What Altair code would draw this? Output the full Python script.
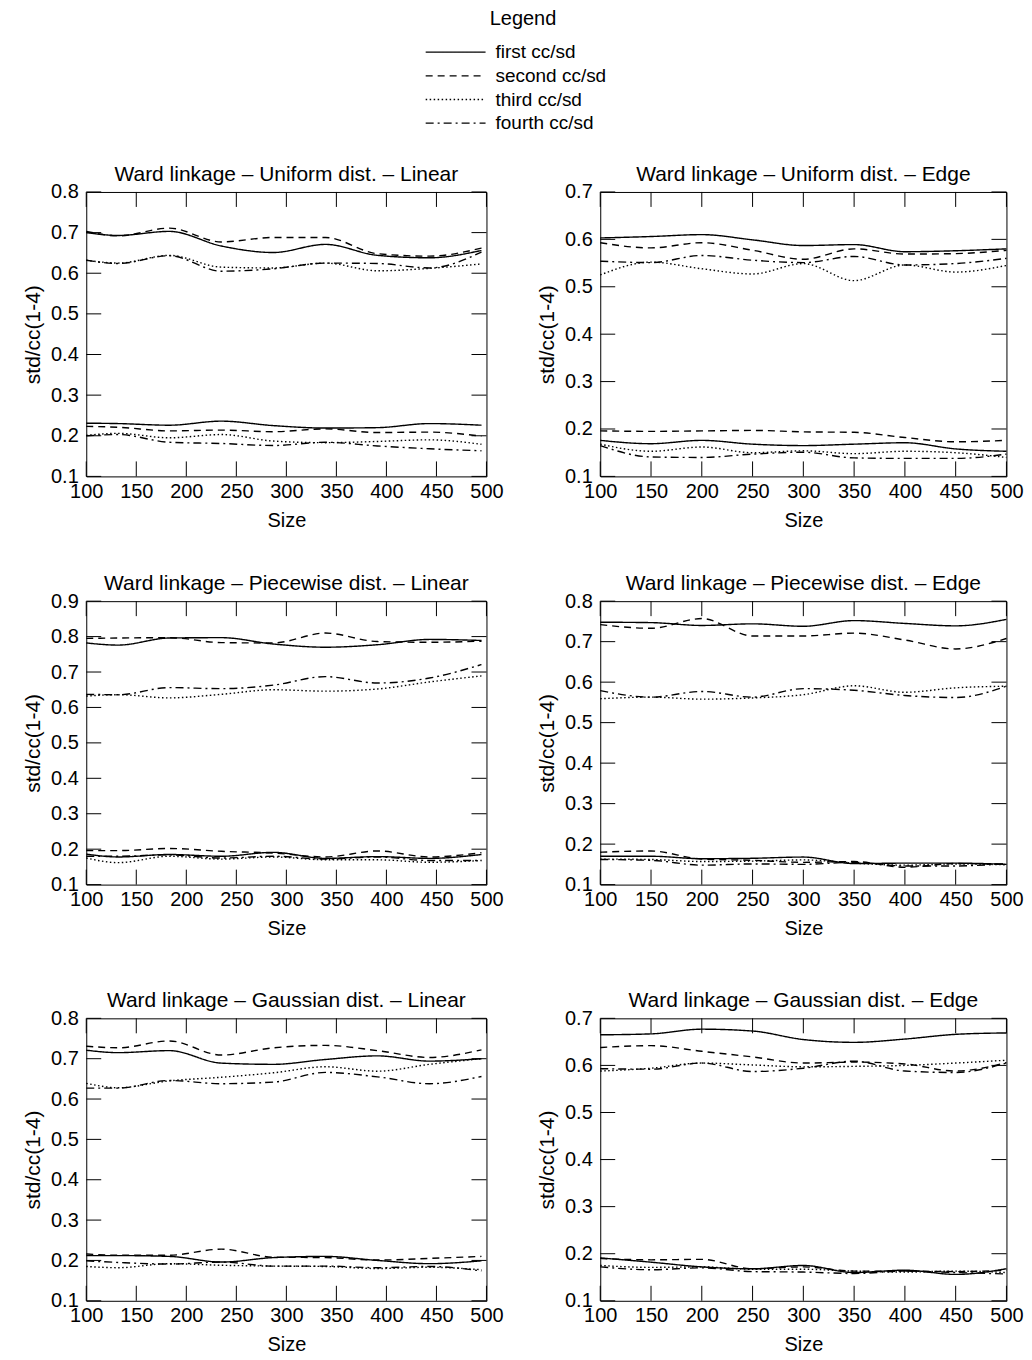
import altair as alt
import pandas as pd

FONT = "Liberation Sans"

X_LEFT = [100, 132, 183, 235, 287, 339, 391, 443, 495]
X_RIGHT = [100, 150, 200, 250, 300, 350, 400, 450, 500]
X_TICKS = [100, 150, 200, 250, 300, 350, 400, 450, 500]
SERIES = ["first cc/sd", "second cc/sd", "third cc/sd", "fourth cc/sd"]
DASHES = [[1, 0], [7, 5], [1.5, 2.5], [8, 4, 2, 4]]

# ---- Uniform dist. - Linear ----
ul_up_first = [0.700, 0.693, 0.703, 0.667, 0.651, 0.671, 0.644, 0.638, 0.656]
ul_up_second = [0.703, 0.692, 0.711, 0.677, 0.688, 0.688, 0.648, 0.642, 0.662]
ul_up_third = [0.632, 0.625, 0.644, 0.615, 0.613, 0.625, 0.606, 0.612, 0.623]
ul_up_fourth = [0.632, 0.624, 0.643, 0.605, 0.611, 0.625, 0.624, 0.613, 0.652]
ul_lo_first = [0.231, 0.230, 0.226, 0.236, 0.225, 0.219, 0.220, 0.230, 0.226]
ul_lo_second = [0.223, 0.221, 0.212, 0.214, 0.210, 0.217, 0.208, 0.209, 0.199]
ul_lo_third = [0.201, 0.206, 0.195, 0.203, 0.187, 0.183, 0.186, 0.190, 0.179]
ul_lo_fourth = [0.200, 0.203, 0.184, 0.181, 0.176, 0.184, 0.175, 0.168, 0.163]

# ---- Uniform dist. - Edge ----
ue_up_first = [0.603, 0.606, 0.610, 0.599, 0.587, 0.589, 0.574, 0.576, 0.580]
ue_up_second = [0.593, 0.582, 0.593, 0.577, 0.558, 0.580, 0.569, 0.570, 0.577]
ue_up_third = [0.525, 0.552, 0.538, 0.527, 0.549, 0.513, 0.546, 0.531, 0.545]
ue_up_fourth = [0.554, 0.551, 0.566, 0.556, 0.551, 0.564, 0.546, 0.549, 0.560]
ue_lo_first = [0.176, 0.169, 0.176, 0.168, 0.165, 0.168, 0.171, 0.158, 0.153]
ue_lo_second = [0.196, 0.195, 0.196, 0.197, 0.194, 0.193, 0.182, 0.173, 0.176]
ue_lo_third = [0.168, 0.153, 0.162, 0.150, 0.154, 0.148, 0.153, 0.150, 0.140]
ue_lo_fourth = [0.165, 0.141, 0.140, 0.147, 0.151, 0.139, 0.138, 0.138, 0.147]

# ---- Piecewise dist. - Linear ----
pl_up_first = [0.782, 0.776, 0.796, 0.797, 0.779, 0.770, 0.777, 0.792, 0.789]
pl_up_second = [0.795, 0.796, 0.797, 0.783, 0.782, 0.810, 0.786, 0.784, 0.787]
pl_up_third = [0.632, 0.636, 0.627, 0.637, 0.650, 0.646, 0.652, 0.672, 0.689]
pl_up_fourth = [0.637, 0.636, 0.656, 0.653, 0.663, 0.687, 0.669, 0.683, 0.721]
pl_lo_first = [0.186, 0.178, 0.185, 0.180, 0.191, 0.174, 0.179, 0.174, 0.185]
pl_lo_second = [0.196, 0.196, 0.202, 0.194, 0.189, 0.178, 0.195, 0.178, 0.190]
pl_lo_third = [0.175, 0.162, 0.180, 0.172, 0.178, 0.170, 0.170, 0.163, 0.168]
pl_lo_fourth = [0.180, 0.180, 0.184, 0.175, 0.180, 0.172, 0.178, 0.168, 0.168]

# ---- Piecewise dist. - Edge ----
pe_up_first = [0.748, 0.747, 0.740, 0.744, 0.738, 0.752, 0.745, 0.739, 0.755]
pe_up_second = [0.742, 0.733, 0.757, 0.714, 0.714, 0.721, 0.704, 0.682, 0.708]
pe_up_third = [0.559, 0.563, 0.558, 0.561, 0.569, 0.591, 0.575, 0.586, 0.590]
pe_up_fourth = [0.579, 0.563, 0.577, 0.563, 0.584, 0.580, 0.567, 0.562, 0.590]
pe_lo_first = [0.170, 0.170, 0.164, 0.165, 0.168, 0.152, 0.153, 0.153, 0.150]
pe_lo_second = [0.180, 0.183, 0.163, 0.160, 0.155, 0.157, 0.143, 0.152, 0.150]
pe_lo_third = [0.163, 0.162, 0.157, 0.158, 0.161, 0.153, 0.148, 0.151, 0.149]
pe_lo_fourth = [0.162, 0.160, 0.148, 0.151, 0.150, 0.155, 0.146, 0.146, 0.152]

# ---- Gaussian dist. - Linear ----
gl_up_first = [0.721, 0.715, 0.720, 0.689, 0.686, 0.698, 0.707, 0.694, 0.700]
gl_up_second = [0.731, 0.727, 0.744, 0.709, 0.727, 0.733, 0.720, 0.703, 0.722]
gl_up_third = [0.639, 0.628, 0.645, 0.654, 0.665, 0.680, 0.669, 0.686, 0.700]
gl_up_fourth = [0.627, 0.627, 0.646, 0.638, 0.642, 0.666, 0.655, 0.638, 0.656]
gl_lo_first = [0.212, 0.212, 0.210, 0.196, 0.207, 0.210, 0.200, 0.192, 0.199]
gl_lo_second = [0.216, 0.213, 0.213, 0.228, 0.208, 0.207, 0.201, 0.205, 0.210]
gl_lo_third = [0.185, 0.182, 0.192, 0.188, 0.186, 0.185, 0.180, 0.183, 0.177]
gl_lo_fourth = [0.199, 0.195, 0.191, 0.196, 0.186, 0.186, 0.182, 0.185, 0.174]

# ---- Gaussian dist. - Edge ----
ge_up_first = [0.665, 0.667, 0.677, 0.673, 0.655, 0.649, 0.656, 0.666, 0.669]
ge_up_second = [0.638, 0.642, 0.630, 0.618, 0.605, 0.607, 0.603, 0.588, 0.606]
ge_up_third = [0.588, 0.594, 0.605, 0.601, 0.597, 0.598, 0.600, 0.605, 0.611]
ge_up_fourth = [0.593, 0.592, 0.605, 0.587, 0.594, 0.609, 0.588, 0.585, 0.605]
ge_lo_first = [0.191, 0.182, 0.172, 0.168, 0.175, 0.160, 0.165, 0.156, 0.168]
ge_lo_second = [0.190, 0.187, 0.188, 0.168, 0.172, 0.163, 0.163, 0.162, 0.165]
ge_lo_third = [0.175, 0.171, 0.172, 0.167, 0.167, 0.163, 0.161, 0.163, 0.160]
ge_lo_fourth = [0.172, 0.166, 0.170, 0.162, 0.161, 0.158, 0.163, 0.160, 0.157]

TICKS_08 = [0.1, 0.2, 0.3, 0.4, 0.5, 0.6, 0.7, 0.8]
TICKS_07 = [0.1, 0.2, 0.3, 0.4, 0.5, 0.6, 0.7]
TICKS_09 = [0.1, 0.2, 0.3, 0.4, 0.5, 0.6, 0.7, 0.8, 0.9]

TICK_LEN = 15
DASH_SCALE = alt.Scale(domain=SERIES, range=DASHES)


def panel(title, xs, ymax, yticks, up, lo, width, height):
    rows = []
    for grp, block in (("cc", up), ("sd", lo)):
        for s, vals in zip(SERIES, block):
            for x, v in zip(xs, vals):
                rows.append({"size": x, "value": v, "series": s, "group": grp})
    df = pd.DataFrame(rows)
    xscale = alt.Scale(domain=[100, 500], nice=False, zero=False)
    yscale = alt.Scale(domain=[0.1, ymax], nice=False, zero=False)
    xaxis = alt.Axis(title="Size", values=X_TICKS, ticks=False, domain=False,
                     grid=False, labelPadding=5, titlePadding=9,
                     labelFlush=False, titleFontSize=20)
    yaxis = alt.Axis(title="std/cc(1-4)", values=yticks, format=".1f",
                     ticks=False, domain=False, grid=False, labelPadding=8,
                     titlePadding=7, titleFontSize=21)
    lines = alt.Chart(df).mark_line(
        color="black", strokeWidth=1.4, interpolate="monotone"
    ).encode(
        x=alt.X("size:Q", scale=xscale, axis=xaxis),
        y=alt.Y("value:Q", scale=yscale, axis=yaxis),
        strokeDash=alt.StrokeDash("series:N", scale=DASH_SCALE, legend=None),
        detail="group:N",
    )
    xt = pd.DataFrame({"size": X_TICKS})
    yt = pd.DataFrame({"value": yticks})
    rule = dict(color="black", strokeWidth=1)
    top = alt.Chart(xt).mark_rule(**rule).encode(
        x=alt.X("size:Q", scale=xscale, axis=xaxis),
        y=alt.value(0), y2=alt.value(TICK_LEN))
    bottom = alt.Chart(xt).mark_rule(**rule).encode(
        x=alt.X("size:Q", scale=xscale, axis=xaxis),
        y=alt.value(height - TICK_LEN), y2=alt.value(height))
    left = alt.Chart(yt).mark_rule(**rule).encode(
        y=alt.Y("value:Q", scale=yscale, axis=yaxis),
        x=alt.value(0), x2=alt.value(TICK_LEN))
    right = alt.Chart(yt).mark_rule(**rule).encode(
        y=alt.Y("value:Q", scale=yscale, axis=yaxis),
        x=alt.value(width - TICK_LEN), x2=alt.value(width))
    return alt.layer(lines, top, bottom, left, right).properties(
        width=width, height=height,
        title=alt.TitleParams(title, fontSize=21, fontWeight="normal",
                              offset=-3, font=FONT),
    )


# ---- legend block (drawn from the series list through an ordinal scale) ----
leg_df = pd.DataFrame({"series": SERIES})
leg_y = alt.Y("series:N", sort=SERIES, axis=None,
              scale=alt.Scale(domain=SERIES, paddingInner=0, paddingOuter=0))
leg_lines = alt.Chart(leg_df).mark_rule(color="black", strokeWidth=1.3).encode(
    y=leg_y, x=alt.value(0), x2=alt.value(60),
    strokeDash=alt.StrokeDash("series:N", scale=DASH_SCALE, legend=None),
)
leg_text = alt.Chart(leg_df).mark_text(
    align="left", baseline="middle", fontSize=19, font=FONT, color="black"
).encode(y=leg_y, x=alt.value(70), text="series:N")
legend_block = alt.layer(leg_lines, leg_text).properties(
    width=259, height=95,
    view=alt.ViewBackground(strokeOpacity=0),
    title=alt.TitleParams("Legend", fontSize=20, fontWeight="normal",
                          anchor="middle", offset=4, dx=-32, dy=-7,
                          font=FONT),
)

WL, WR = 401, 407

p1 = panel("Ward linkage \u2013 Uniform dist. \u2013 Linear", X_LEFT, 0.8, TICKS_08,
           [ul_up_first, ul_up_second, ul_up_third, ul_up_fourth],
           [ul_lo_first, ul_lo_second, ul_lo_third, ul_lo_fourth], WL, 285)
p2 = panel("Ward linkage \u2013 Uniform dist. \u2013 Edge", X_RIGHT, 0.7, TICKS_07,
           [ue_up_first, ue_up_second, ue_up_third, ue_up_fourth],
           [ue_lo_first, ue_lo_second, ue_lo_third, ue_lo_fourth], WR, 285)
p3 = panel("Ward linkage \u2013 Piecewise dist. \u2013 Linear", X_LEFT, 0.9, TICKS_09,
           [pl_up_first, pl_up_second, pl_up_third, pl_up_fourth],
           [pl_lo_first, pl_lo_second, pl_lo_third, pl_lo_fourth], WL, 284)
p4 = panel("Ward linkage \u2013 Piecewise dist. \u2013 Edge", X_RIGHT, 0.8, TICKS_08,
           [pe_up_first, pe_up_second, pe_up_third, pe_up_fourth],
           [pe_lo_first, pe_lo_second, pe_lo_third, pe_lo_fourth], WR, 284)
p5 = panel("Ward linkage \u2013 Gaussian dist. \u2013 Linear", X_LEFT, 0.8, TICKS_08,
           [gl_up_first, gl_up_second, gl_up_third, gl_up_fourth],
           [gl_lo_first, gl_lo_second, gl_lo_third, gl_lo_fourth], WL, 283)
p6 = panel("Ward linkage \u2013 Gaussian dist. \u2013 Edge", X_RIGHT, 0.7, TICKS_07,
           [ge_up_first, ge_up_second, ge_up_third, ge_up_fourth],
           [ge_lo_first, ge_lo_second, ge_lo_third, ge_lo_fourth], WR, 283)

grid = alt.vconcat(
    alt.vconcat(
        alt.hconcat(p1, p2, spacing=31),
        alt.hconcat(p3, p4, spacing=31),
        spacing=41,
    ),
    alt.hconcat(p5, p6, spacing=31),
    spacing=50,
)

chart = alt.vconcat(legend_block, grid, spacing=28, center=True).properties(
    padding={"left": 14, "top": 0, "right": 0, "bottom": 0}
).configure(font=FONT).configure_view(
    stroke="black", strokeWidth=1
).configure_axis(
    labelFontSize=20, labelFont=FONT, titleFont=FONT,
    labelColor="black", titleColor="black", titleFontWeight="normal",
).configure_title(color="black")

chart.save("out.html", embed_options={"renderer": "svg", "actions": False})
